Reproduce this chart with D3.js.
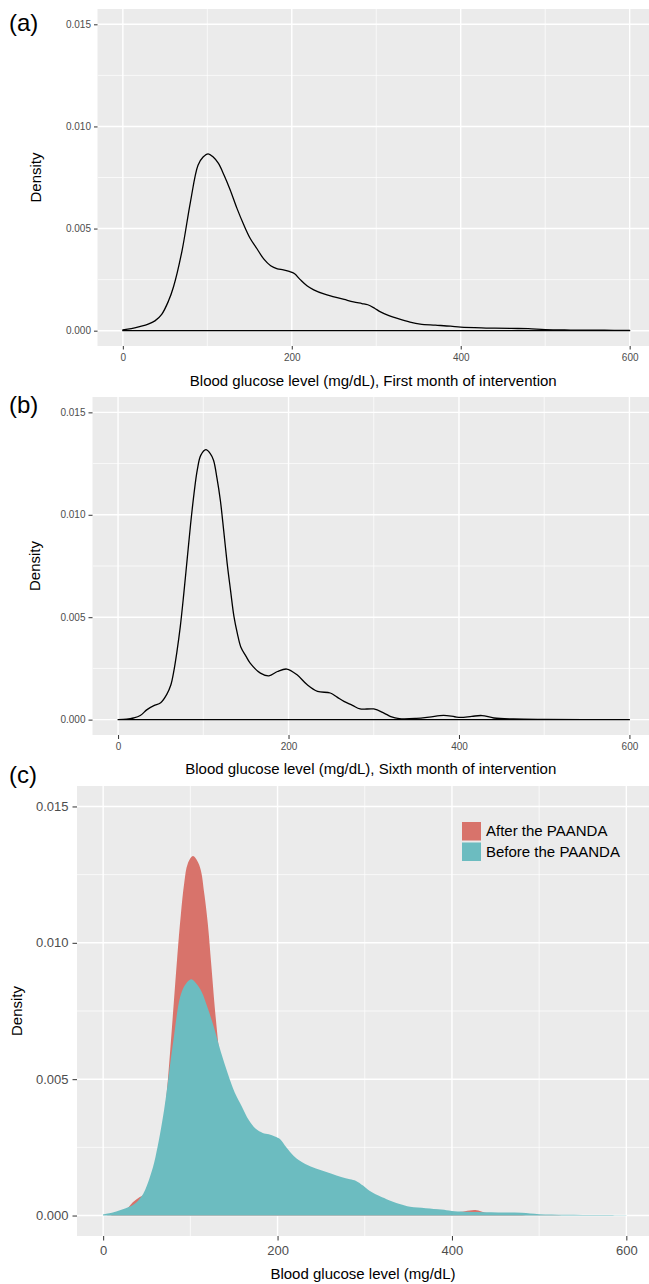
<!DOCTYPE html>
<html>
<head>
<meta charset="utf-8">
<script src="https://cdn.jsdelivr.net/npm/d3@7"></script>
<style>
  html, body { margin: 0; padding: 0; background: #ffffff; }
  svg { display: block; font-family: "Liberation Sans", Arial, Helvetica, sans-serif; }
</style>
</head>
<body>
<svg id="chart" width="649" height="1284"></svg>
<script>
// ---------- Data ----------
// Before the PAANDA (first month of intervention) density estimate
const beforeGlucose = [0,10,20,30,38,46,54,60,70,80,89,95,101,107,113,120,127,135,143,151,159,167,175,183,190,197,203,210,218,226,238,250,262,273,283,290,298,305,315,325,340,352,370,388,400,430,460,480,500,530,570,600];
const beforeDensity = [0.00004,0.0001,0.0002,0.00032,0.00048,0.0008,0.00145,0.00215,0.0039,0.0063,0.0081,0.0085,0.00866,0.0085,0.0082,0.0076,0.0069,0.0060,0.0052,0.0045,0.0040,0.0035,0.00318,0.00303,0.00298,0.0029,0.0028,0.0025,0.0022,0.0020,0.0018,0.00166,0.00153,0.00141,0.00133,0.00127,0.0011,0.00092,0.00074,0.0006,0.00042,0.00032,0.00027,0.00022,0.00017,0.00013,0.00011,0.0001,0.00005,0.00003,0.00002,0.00001];

// After the PAANDA (sixth month of intervention) density estimate
const afterGlucose = [0,10,18,26,34,42,50,57,62,65,69,73,77,81,85,89,93,97,103,108,112,116,120,124,128,132,136,140,144,150,155,167,177,187,198,210,222,234,249,257,265,275,284,300,312,320,330,350,365,382,395,402,415,427,441,464,500,600];
const afterDensity = [0,0.00002,0.00008,0.0002,0.00049,0.00068,0.00082,0.00122,0.0017,0.00227,0.0033,0.00454,0.0061,0.0078,0.0095,0.0110,0.0122,0.0129,0.01318,0.0130,0.01266,0.0118,0.01071,0.0092,0.00763,0.0063,0.00503,0.0042,0.00355,0.0031,0.00276,0.00227,0.00214,0.00235,0.00247,0.00219,0.0017,0.00138,0.0013,0.0011,0.00089,0.0007,0.00052,0.00052,0.00032,0.00015,0.00005,0.00006,0.00012,0.00021,0.00014,0.00011,0.00016,0.0002,0.00008,0.00003,0.00001,0];

const xTicks = [0, 200, 400, 600];
const xMinor = [100, 300, 500];
const yTicks = [0, 0.005, 0.010, 0.015];
const yMinor = [0.0025, 0.0075, 0.0125];
const xDomain = [-30, 630];
const yDomain = [-0.00075, 0.01575];

const panelLabels = ["(a)", "(b)", "(c)"];
const xTitles = [
  "Blood glucose level (mg/dL), First month of intervention",
  "Blood glucose level (mg/dL), Sixth month of intervention",
  "Blood glucose level (mg/dL)"
];
const yTitle = "Density";
const legendLabels = ["After the PAANDA", "Before the PAANDA"];
const legendColors = ["#D8736B", "#6CBCC0"];

const before = beforeGlucose.map((g, i) => ({ x: g, y: beforeDensity[i] }));
const after = afterGlucose.map((g, i) => ({ x: g, y: afterDensity[i] }));

// ---------- Drawing ----------
const svg = d3.select("#chart");
const defs = svg.append("defs");

function panel(cfg) {
  const x = d3.scaleLinear().domain(xDomain).range([cfg.left, cfg.right]);
  const y = d3.scaleLinear().domain(yDomain).range([cfg.bottom, cfg.top]);
  const clipId = "clip" + cfg.id;
  defs.append("clipPath").attr("id", clipId)
    .append("rect").attr("x", cfg.left).attr("y", cfg.top)
    .attr("width", cfg.right - cfg.left).attr("height", cfg.bottom - cfg.top);

  const g = svg.append("g");
  g.append("rect").attr("x", cfg.left).attr("y", cfg.top)
    .attr("width", cfg.right - cfg.left).attr("height", cfg.bottom - cfg.top)
    .attr("fill", "#EBEBEB");

  const grid = g.append("g").attr("clip-path", `url(#${clipId})`);
  grid.selectAll(".xmin").data(xMinor).join("line")
    .attr("x1", d => x(d)).attr("x2", d => x(d)).attr("y1", cfg.top).attr("y2", cfg.bottom)
    .attr("stroke", "#fff").attr("stroke-width", 0.7);
  grid.selectAll(".ymin").data(yMinor).join("line")
    .attr("y1", d => y(d)).attr("y2", d => y(d)).attr("x1", cfg.left).attr("x2", cfg.right)
    .attr("stroke", "#fff").attr("stroke-width", 0.7);
  grid.selectAll(".xmaj").data(xTicks).join("line")
    .attr("x1", d => x(d)).attr("x2", d => x(d)).attr("y1", cfg.top).attr("y2", cfg.bottom)
    .attr("stroke", "#fff").attr("stroke-width", 1.4);
  grid.selectAll(".ymaj").data(yTicks).join("line")
    .attr("y1", d => y(d)).attr("y2", d => y(d)).attr("x1", cfg.left).attr("x2", cfg.right)
    .attr("stroke", "#fff").attr("stroke-width", 1.4);

  const area = d3.area().x(d => x(d.x)).y0(y(0)).y1(d => Math.min(y(0), y(d.y)))
    .curve(d3.curveCatmullRom.alpha(0.5));
  const marks = g.append("g").attr("clip-path", `url(#${clipId})`);
  if (cfg.filled) {
    marks.append("path").datum(after).attr("d", area).attr("fill", legendColors[0]);
    marks.append("path").datum(before).attr("d", area).attr("fill", legendColors[1]);
  } else {
    marks.append("path").datum(cfg.data).attr("d", area)
      .attr("fill", "none").attr("stroke", "#000").attr("stroke-width", 1.3)
      .attr("stroke-linejoin", "round");
  }

  const xAxis = d3.axisBottom(x).tickValues(xTicks).tickFormat(d3.format("d"))
    .tickSize(cfg.tickLen).tickPadding(cfg.xPad);
  const gx = g.append("g").attr("transform", `translate(0,${cfg.bottom})`).call(xAxis);
  const yAxis = d3.axisLeft(y).tickValues(yTicks).tickFormat(d3.format(".3f"))
    .tickSize(cfg.tickLen).tickPadding(cfg.yPad);
  const gy = g.append("g").attr("transform", `translate(${cfg.left},0)`).call(yAxis);
  [gx, gy].forEach(a => {
    a.select(".domain").remove();
    a.selectAll(".tick line").attr("stroke", "#333").attr("stroke-width", 1);
    a.selectAll(".tick text").attr("fill", "#4D4D4D").attr("font-size", cfg.tickFont)
      .attr("font-family", "Liberation Sans, Arial, sans-serif");
  });

  svg.append("text").attr("x", (cfg.left + 649) / 2).attr("y", cfg.xTitleY)
    .attr("text-anchor", "middle").attr("font-size", 15).attr("fill", "#000")
    .text(xTitles[cfg.id]);
  svg.append("text")
    .attr("transform", `translate(${cfg.yTitleX},${(cfg.top + cfg.bottom) / 2}) rotate(-90)`)
    .attr("text-anchor", "middle").attr("font-size", 15).attr("fill", "#000")
    .text(yTitle);
  svg.append("text").attr("x", 9).attr("y", cfg.labelY)
    .attr("font-size", 24).attr("fill", "#000").text(panelLabels[cfg.id]);

  if (cfg.filled) {
    const lg = svg.append("g");
    legendLabels.forEach((lab, i) => {
      lg.append("rect").attr("x", 462).attr("y", 822 + i * 20.5)
        .attr("width", 19).attr("height", 18.5).attr("fill", legendColors[i]);
      lg.append("text").attr("x", 486).attr("y", 831 + i * 20.5).attr("dy", "0.36em")
        .attr("font-size", 15).attr("fill", "#000").text(lab);
    });
  }
}

panel({ id: 0, left: 97.5, right: 655, top: 9, bottom: 346, data: before, filled: false,
  tickLen: 3.5, xPad: 4, yPad: 3, tickFont: 10, xTitleY: 386, yTitleX: 41, labelY: 31 });
panel({ id: 1, left: 92.5, right: 655, top: 397, bottom: 735, data: after, filled: false,
  tickLen: 4, xPad: 4, yPad: 3, tickFont: 10, xTitleY: 774, yTitleX: 40, labelY: 413 });
panel({ id: 2, left: 77, right: 652.5, top: 786, bottom: 1236, filled: true,
  tickLen: 4.5, xPad: 5, yPad: 4, tickFont: 13, xTitleY: 1279, yTitleX: 22, labelY: 783 });
</script>
</body>
</html>
